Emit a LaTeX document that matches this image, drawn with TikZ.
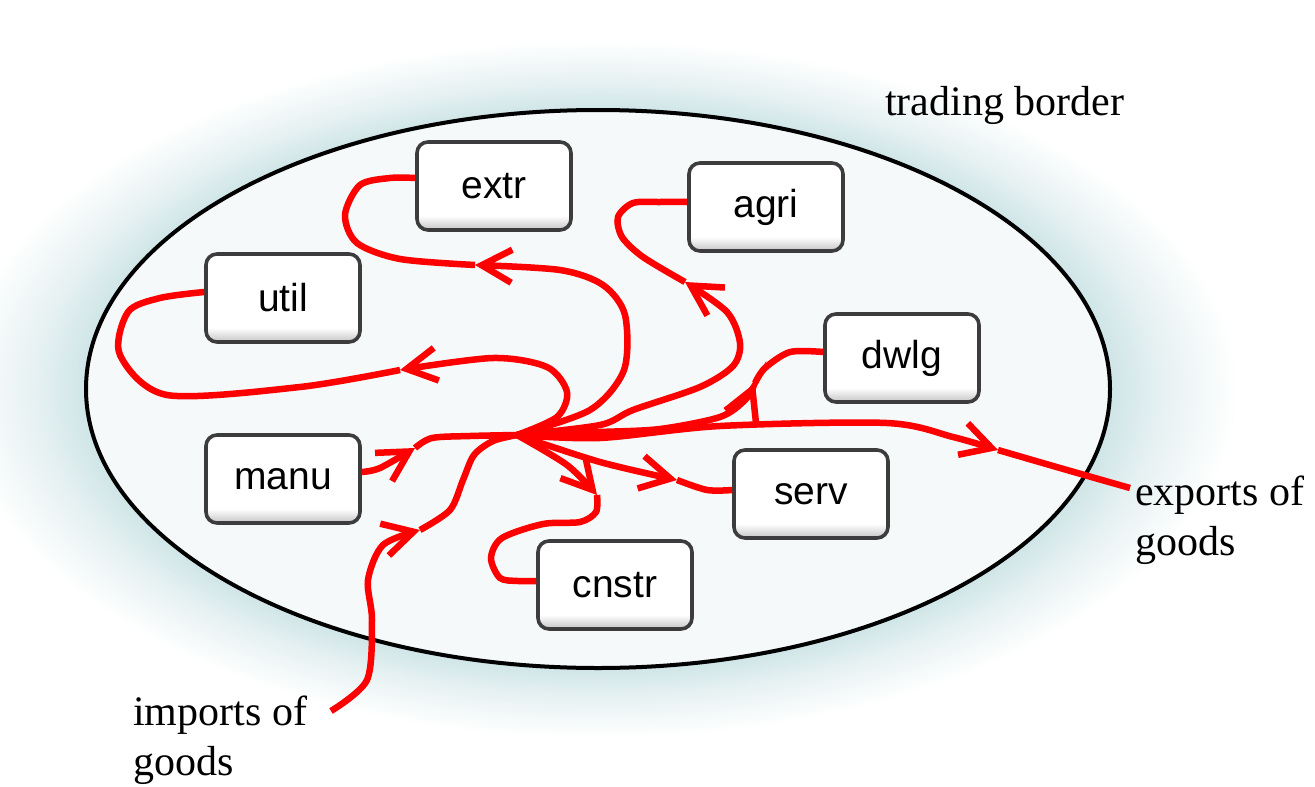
\documentclass[tikz,border=0pt]{standalone}
\usepackage{fontspec}
\setmainfont{Liberation Serif}
\newfontfamily\boxfont{Liberation Sans}
\usetikzlibrary{arrows.meta,calc}

\definecolor{haloC}{HTML}{EDF5F6}
\definecolor{haloD}{HTML}{CFE5E7}
\definecolor{haloE}{HTML}{E6F1F2}
\definecolor{insidefill}{HTML}{F5F9F9}
\definecolor{boxedge}{HTML}{3C3C3C}
\definecolor{boxshade}{HTML}{C4C4C4}

% soft teal halo that fades out around the border ellipse
\pgfdeclareradialshading{haloshade}{\pgfpoint{0bp}{0bp}}{%
  color(0bp)=(haloC); color(18.5bp)=(haloC); color(20bp)=(haloD);
  color(22bp)=(haloE); color(25bp)=(white); color(50bp)=(white)}

% white key face with a grey rim along its lower edge
\pgfdeclareverticalshading{keyface}{100bp}{%
  color(0bp)=(boxshade); color(25bp)=(boxshade); color(33bp)=(white);
  color(100bp)=(white)}

\tikzset{
  sector/.style={draw=boxedge, line width=3.6pt, rounded corners=11pt,
    shading=keyface,
    minimum width=154pt, minimum height=88pt, inner sep=0pt,
    font=\boxfont\fontsize{39}{44}\selectfont},
  label text/.style={inner sep=0pt, align=left,
    font=\fontsize{42}{50}\selectfont},
  flow/.style={draw=red, line width=6.5pt},
  flowtip/.style={flow, -{Straight Barb[length=30pt, width=33pt]}},
}

\begin{document}
\begin{tikzpicture}[x=1pt, y=-1pt]
\useasboundingbox (0,0) rectangle (1315,787);

% trading border with halo
\shade[shading=haloshade] (598,389) ellipse [x radius=640, y radius=349];
\filldraw[fill=insidefill, draw=black, line width=4pt]
  (598,389) ellipse [x radius=512, y radius=279];

% sectors
\node[sector] (extr)  at (494,186) {extr};
\node[sector] (util)  at (283,298) {util};
\node[sector] (agri)  at (766,207) {agri};
\node[sector] (dwlg)  at (902,358) {dwlg};
\node[sector] (manu)  at (283,479) {manu};
\node[sector] (serv)  at (811,494) {serv};
\node[sector] (cnstr) at (615,585) {cnstr};

% labels (base anchor sits on the last line)
\node[label text, anchor=base west] (border) at (885,115) {trading border};
\node[label text, anchor=base west] (exports) at (1135,555) {exports of\\goods};
\node[label text, anchor=base west] (imports) at (133,775) {imports of\\goods};

% hub and free ends
\coordinate (hub) at (517,435);
\coordinate (impstart) at (331,711);
\coordinate (expend) at (1130,488);

% arrow positions
\coordinate (aextr) at (475,265);
\coordinate (autil) at (400,370);
\coordinate (amanu) at (415,448);
\coordinate (aimp)  at (420,530);
\coordinate (acn)   at (597,495);
\coordinate (aserv) at (677,480);
\coordinate (aexp)  at (998,450);
\coordinate (adw)   at (755,383);
\coordinate (aagri) at (685,282);

% hub -> extr
\draw[flowtip] plot[smooth] coordinates {(hub) (590,410) (624,370) (625,315) (603,285) (560,270) (aextr)};
\draw[flow] plot[smooth] coordinates {(aextr) (400,259) (357,243) (345,215) (360,185) (390,178) ([yshift=8pt]extr.west)};

% hub -> util
\draw[flowtip] plot[smooth] coordinates {(hub) (557,417) (567,392) (547,367) (493,358) (autil)};
\draw[flow] plot[smooth] coordinates {(autil) (300,387) (167,395) (120,355) (128,312) (160,298) ([yshift=6pt]util.west)};

% manu -> hub
\draw[flowtip] plot[smooth] coordinates {([yshift=7pt]manu.east) (380,468) (amanu)};
\draw[flow] plot[smooth] coordinates {(amanu) (432,438) (470,436) (hub)};

% imports -> hub
\draw[flowtip] plot[smooth] coordinates {(impstart) (367,680) (372,620) (368,580) (383,545) (aimp)};
\draw[flow] plot[smooth] coordinates {(aimp) (450,510) (463,480) (474,455) (493,441) (hub)};

% hub -> cnstr
\draw[flowtip] plot[smooth] coordinates {(hub) (567,465) (acn)};
\draw[flow] plot[smooth] coordinates {(acn) (596,512) (580,522) (543,524) (502,538) (491,558) (500,578) (518,581) ([yshift=4pt]cnstr.west)};

% hub -> serv
\draw[flowtip] plot[smooth] coordinates {(hub) (600,462) (aserv)};
\draw[flow] plot[smooth] coordinates {(aserv) (707,490) ([yshift=4pt]serv.west)};

% hub -> exports
\draw[flowtip] plot[smooth] coordinates {(hub) (600,438) (720,426) (887,423) (953,437) (aexp)};
\draw[flow] plot[smooth] coordinates {(aexp) (1060,468) (expend)};

% hub -> dwlg
\draw[flowtip] plot[smooth] coordinates {(hub) (600,432) (660,429) (720,417) (745,400) (adw)};
\draw[flow] plot[smooth] coordinates {(adw) (765,368) (790,352) ([yshift=6pt]dwlg.west)};

% hub -> agri
\draw[flowtip] plot[smooth] coordinates {(hub) (600,425) (633,410) (700,387) (733,366) (740,343) (727,312) (aagri)};
\draw[flow] plot[smooth] coordinates {(aagri) (643,257) (622,237) (618,217) (633,203) (660,202) ([yshift=5pt]agri.west)};
\end{tikzpicture}
\end{document}
